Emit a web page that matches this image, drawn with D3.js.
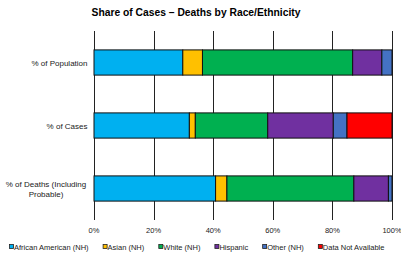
<!DOCTYPE html>
<html>
<head>
<meta charset="utf-8">
<script src="https://cdn.jsdelivr.net/npm/d3@7"></script>
<style>
  body { margin: 0; background: #fff; }
  text { font-family: "Liberation Sans", Arial, sans-serif; }
</style>
</head>
<body>
<div id="chart"></div>
<script>
const categories = ['% of Population', '% of Cases', '% of Deaths (Including Probable)'];
const seriesNames = ['African American (NH)', 'Asian (NH)', 'White (NH)', 'Hispanic', 'Other (NH)', 'Data Not Available'];
const seriesColors = ['#00B0F0', '#FFC000', '#00B050', '#7030A0', '#4472C4', '#FF0000'];
const africanAmerican = [29.8, 32.0, 40.8];
const asian = [6.6, 2.0, 3.8];
const white = [50.4, 24.3, 42.6];
const hispanic = [9.8, 22.0, 11.6];
const other = [3.4, 4.6, 1.2];
const notAvailable = [0, 15.1, 0];
const tickValues = [0, 20, 40, 60, 80, 100];

const W = 401, H = 258;
const margin = {top: 31, right: 9, bottom: 38, left: 94};

const svg = d3.select('#chart').append('svg')
  .attr('width', W)
  .attr('height', H);

const x = d3.scaleLinear().domain([0, 100]).range([margin.left, W - margin.right]);
const y = d3.scaleBand().domain(categories).range([margin.top, H - margin.bottom])
  .paddingInner(0.6).paddingOuter(0.3);

const table = categories.map((c, i) => ({
  cat: c,
  'African American (NH)': africanAmerican[i],
  'Asian (NH)': asian[i],
  'White (NH)': white[i],
  'Hispanic': hispanic[i],
  'Other (NH)': other[i],
  'Data Not Available': notAvailable[i]
}));
const stacked = d3.stack().keys(seriesNames)(table);

// title
svg.append('text')
  .attr('x', 196).attr('y', 16)
  .attr('text-anchor', 'middle')
  .attr('font-size', 10.3)
  .attr('font-weight', 'bold')
  .attr('fill', '#000')
  .text('Share of Cases \u2013 Deaths by Race/Ethnicity');

// gridlines
svg.append('g').selectAll('line')
  .data(tickValues)
  .join('line')
  .attr('x1', d => Math.round(x(d)) + 0.5)
  .attr('x2', d => Math.round(x(d)) + 0.5)
  .attr('y1', margin.top)
  .attr('y2', H - margin.bottom)
  .attr('stroke', '#222')
  .attr('stroke-width', 1);

// x tick labels
svg.append('g').selectAll('text')
  .data(tickValues)
  .join('text')
  .attr('x', d => x(d))
  .attr('y', H - margin.bottom + 13)
  .attr('text-anchor', 'middle')
  .attr('font-size', 7.5)
  .attr('fill', '#222')
  .text(d => d + '%');

// bars
svg.append('g').selectAll('g')
  .data(stacked)
  .join('g')
  .attr('fill', (d, i) => seriesColors[i])
  .selectAll('rect')
  .data(d => d.filter(p => p[1] - p[0] > 0))
  .join('rect')
  .attr('x', d => x(d[0]))
  .attr('width', d => x(d[1]) - x(d[0]))
  .attr('y', d => y(d.data.cat))
  .attr('height', y.bandwidth())
  .attr('stroke', '#111')
  .attr('stroke-width', 1);

// y labels
svg.append('g').selectAll('text')
  .data(categories)
  .join('text')
  .attr('font-size', 8)
  .attr('fill', '#222')
  .each(function(d) {
    const t = d3.select(this);
    const cy = y(d) + y.bandwidth() / 2;
    if (d.length > 20) {
      t.attr('text-anchor', 'middle');
      ['% of Deaths (Including', 'Probable)'].forEach((l, i) => {
        t.append('tspan')
          .attr('x', 46)
          .attr('y', cy - 2 + i * 10)
          .text(l);
      });
    } else {
      t.attr('text-anchor', 'end')
        .attr('x', 87.5)
        .attr('y', cy + 3)
        .text(d);
    }
  });

// legend, flowed left to right
const leg = svg.append('g');
let lx = 9;
seriesNames.forEach((name, i) => {
  const g = leg.append('g').attr('transform', `translate(${lx},247)`);
  g.append('rect')
    .attr('x', 0.5).attr('y', -2.5)
    .attr('width', 4).attr('height', 4)
    .attr('fill', seriesColors[i])
    .attr('stroke', '#222')
    .attr('stroke-width', 0.8);
  const t = g.append('text')
    .attr('x', 5).attr('y', 2.5)
    .attr('font-size', 7.5)
    .attr('fill', '#222')
    .text(name);
  lx += 5 + t.node().getComputedTextLength() + 14;
});
</script>
</body>
</html>
